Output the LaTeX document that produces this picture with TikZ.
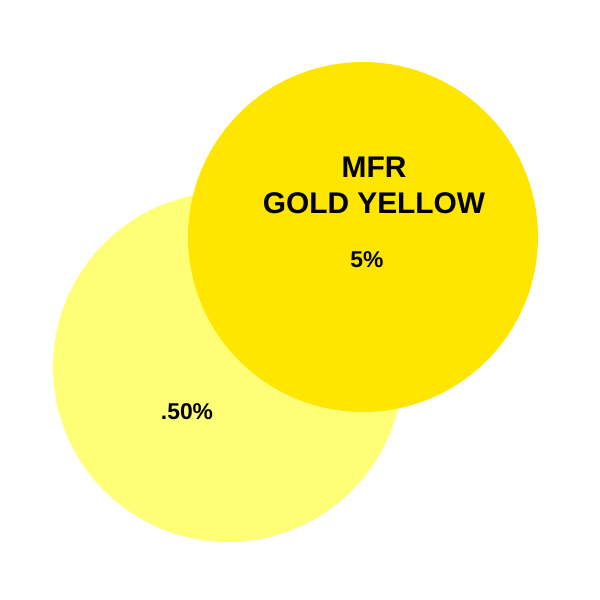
\documentclass[tikz,border=0pt]{standalone}
\usepackage{fontspec}
\setmainfont{Liberation Sans}
\definecolor{gold}{HTML}{FFE600}
\definecolor{lightyel}{HTML}{FFFF77}
\begin{document}
\begin{tikzpicture}[x=0.02cm,y=-0.02cm,
  disc/.style={circle,minimum size=7cm,inner sep=0pt},
  bigtxt/.style={font=\fontsize{17}{20.5}\selectfont\bfseries,align=center},
  pct/.style={font=\fontsize{13}{15}\selectfont\bfseries}]
\useasboundingbox (0,0) rectangle (600,600);
\node[disc,fill=lightyel] (light) at (228,367) {};
\node[disc,fill=gold] (gold) at (363,237) {};
\node[bigtxt] (title) at (374,185) {MFR\\GOLD YELLOW};
\node[pct] (p5) at (367,260) {5\%};
\node[pct] (p50) at (187,412) {.50\%};
\end{tikzpicture}
\end{document}
